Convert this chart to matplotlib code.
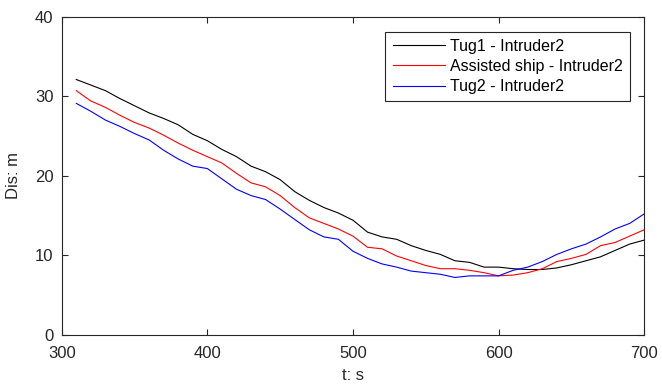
import matplotlib
matplotlib.use("Agg")
import matplotlib.pyplot as plt
import numpy as np

plt.rc('font', family=['Liberation Sans', 'DejaVu Sans'], size=12)

# time stamps (s)
t = np.arange(310, 701, 10)

# distances (m)
tug1 = [32.1, 31.4, 30.7, 29.7, 28.8, 27.9, 27.2, 26.4, 25.2, 24.4,
        23.3, 22.4, 21.2, 20.5, 19.5, 18.0, 16.9, 16.0, 15.3, 14.4,
        12.9, 12.3, 12.0, 11.2, 10.6, 10.1, 9.3, 9.1, 8.5, 8.5,
        8.3, 8.2, 8.2, 8.4, 8.8, 9.3, 9.8, 10.6, 11.4, 11.9]
assisted = [30.7, 29.4, 28.6, 27.6, 26.7, 26.0, 25.1, 24.1, 23.2, 22.4,
            21.6, 20.3, 19.1, 18.6, 17.5, 16.0, 14.7, 14.0, 13.3, 12.4,
            11.0, 10.8, 9.9, 9.3, 8.7, 8.3, 8.3, 8.1, 7.8, 7.4,
            7.5, 7.8, 8.3, 9.2, 9.6, 10.1, 11.2, 11.6, 12.4, 13.2]
tug2 = [29.1, 28.1, 27.0, 26.2, 25.3, 24.5, 23.2, 22.1, 21.2, 20.9,
        19.6, 18.3, 17.5, 17.0, 15.8, 14.5, 13.2, 12.3, 12.0, 10.5,
        9.6, 8.9, 8.5, 8.0, 7.8, 7.6, 7.2, 7.4, 7.4, 7.4,
        8.1, 8.5, 9.2, 10.1, 10.8, 11.4, 12.3, 13.3, 14.0, 15.2]

labels = ['Tug1 - Intruder2', 'Assisted ship - Intruder2', 'Tug2 - Intruder2']

fig = plt.figure(figsize=(6.62, 3.9), dpi=100)
ax = fig.add_axes([0.0932, 0.1418, 0.880, 0.8154])

ax.plot(t, tug1, color='black', linewidth=0.8, label=labels[0])
ax.plot(t, assisted, color='red', linewidth=0.8, label=labels[1])
ax.plot(t, tug2, color='blue', linewidth=0.8, label=labels[2])

ax.set_xlim(300, 700)
ax.set_ylim(0, 40)
ax.set_xticks([300, 400, 500, 600, 700])
ax.set_yticks([0, 10, 20, 30, 40])
ax.set_xlabel('t: s', color='#262626', labelpad=5)
ax.set_ylabel('Dis: m', color='#262626', labelpad=10)

for s in ax.spines.values():
    s.set_color('#262626')
    s.set_linewidth(0.8)
ax.tick_params(direction='in', top=True, right=True, length=4,
               color='#262626', labelcolor='#262626', width=0.8)
ax.tick_params(axis='x', pad=8)
ax.tick_params(axis='y', pad=6)

leg = ax.legend(loc='upper right', bbox_to_anchor=(0.9755, 0.9528), fancybox=False,
                edgecolor='#262626', framealpha=1, fontsize=11.5,
                handlelength=3.3, borderpad=0.45, labelspacing=0.32,
                handletextpad=0.3, borderaxespad=0)
leg.get_frame().set_linewidth(0.8)

fig.savefig('out.png', dpi=100)
